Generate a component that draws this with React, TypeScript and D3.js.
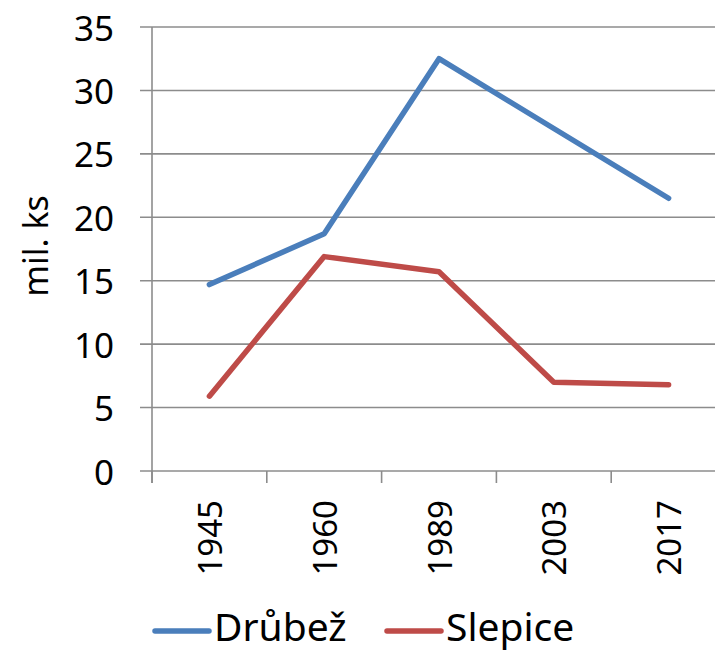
import React from "react";
import * as d3 from "d3";

const categories = ["1945", "1960", "1989", "2003", "2017"];
const drubez = [14.7, 18.7, 32.5, 27.0, 21.5];
const slepice = [5.9, 16.9, 15.7, 7.0, 6.8];
const yTicks = [0, 5, 10, 15, 20, 25, 30, 35];
const seriesNames = ["Drůbež", "Slepice"];
const seriesColors = ["#4a7ebb", "#be4b48"];

const W = 715;
const H = 653;
const FONT = "'Noto Sans', sans-serif";

export default function App() {
  const x = d3.scaleBand<string>().domain(categories).range([152, 726]).padding(0);
  const y = d3.scaleLinear().domain([0, 35]).range([471, 27]);
  const line = d3
    .line<number>()
    .x((_, i) => (x(categories[i]) as number) + x.bandwidth() / 2)
    .y((d) => y(d));
  const series = [drubez, slepice];
  const tickEdges = categories.map((c) => x(c) as number).concat([x.range()[1]]);

  return (
    <svg
      width={W}
      height={H}
      style={{ position: "absolute", left: 0, top: 0, background: "#fff" }}
      fontFamily={FONT}
    >
      <rect width={W} height={H} fill="#fff" />
      {yTicks.map((t) => (
        <g key={t}>
          <line x1={140} x2={W} y1={y(t)} y2={y(t)} stroke="#8c8c8c" strokeWidth={1.6} />
          <text x={114} y={y(t)} textAnchor="end" dominantBaseline="central" fontSize={35} fill="#000">
            {t}
          </text>
        </g>
      ))}
      <line x1={152} x2={152} y1={y(35)} y2={483} stroke="#8c8c8c" strokeWidth={1.6} />
      {tickEdges.map((e, i) => (
        <line key={i} x1={e} x2={e} y1={y(0)} y2={483} stroke="#8c8c8c" strokeWidth={1.6} />
      ))}
      {categories.map((c) => {
        const cx = (x(c) as number) + x.bandwidth() / 2;
        return (
          <text
            key={c}
            transform={`translate(${cx},500) rotate(-90)`}
            textAnchor="end"
            dominantBaseline="central"
            fontSize={33}
            fill="#000"
          >
            {c}
          </text>
        );
      })}
      <text
        transform="translate(35,246) rotate(-90)"
        textAnchor="middle"
        dominantBaseline="central"
        fontSize={34}
        fill="#000"
      >
        mil. ks
      </text>
      {series.map((s, i) => (
        <path
          key={i}
          d={line(s) || ""}
          fill="none"
          stroke={seriesColors[i]}
          strokeWidth={5.5}
          strokeLinejoin="round"
          strokeLinecap="round"
        />
      ))}
      {seriesNames.map((n, i) => {
        const lx = i === 0 ? 155 : 387;
        return (
          <g key={n}>
            <line x1={lx} x2={lx + 54} y1={631} y2={631} stroke={seriesColors[i]} strokeWidth={5.5} strokeLinecap="round" />
            <text x={lx + 59} y={641} fontSize={39} fill="#000">
              {n}
            </text>
          </g>
        );
      })}
    </svg>
  );
}
